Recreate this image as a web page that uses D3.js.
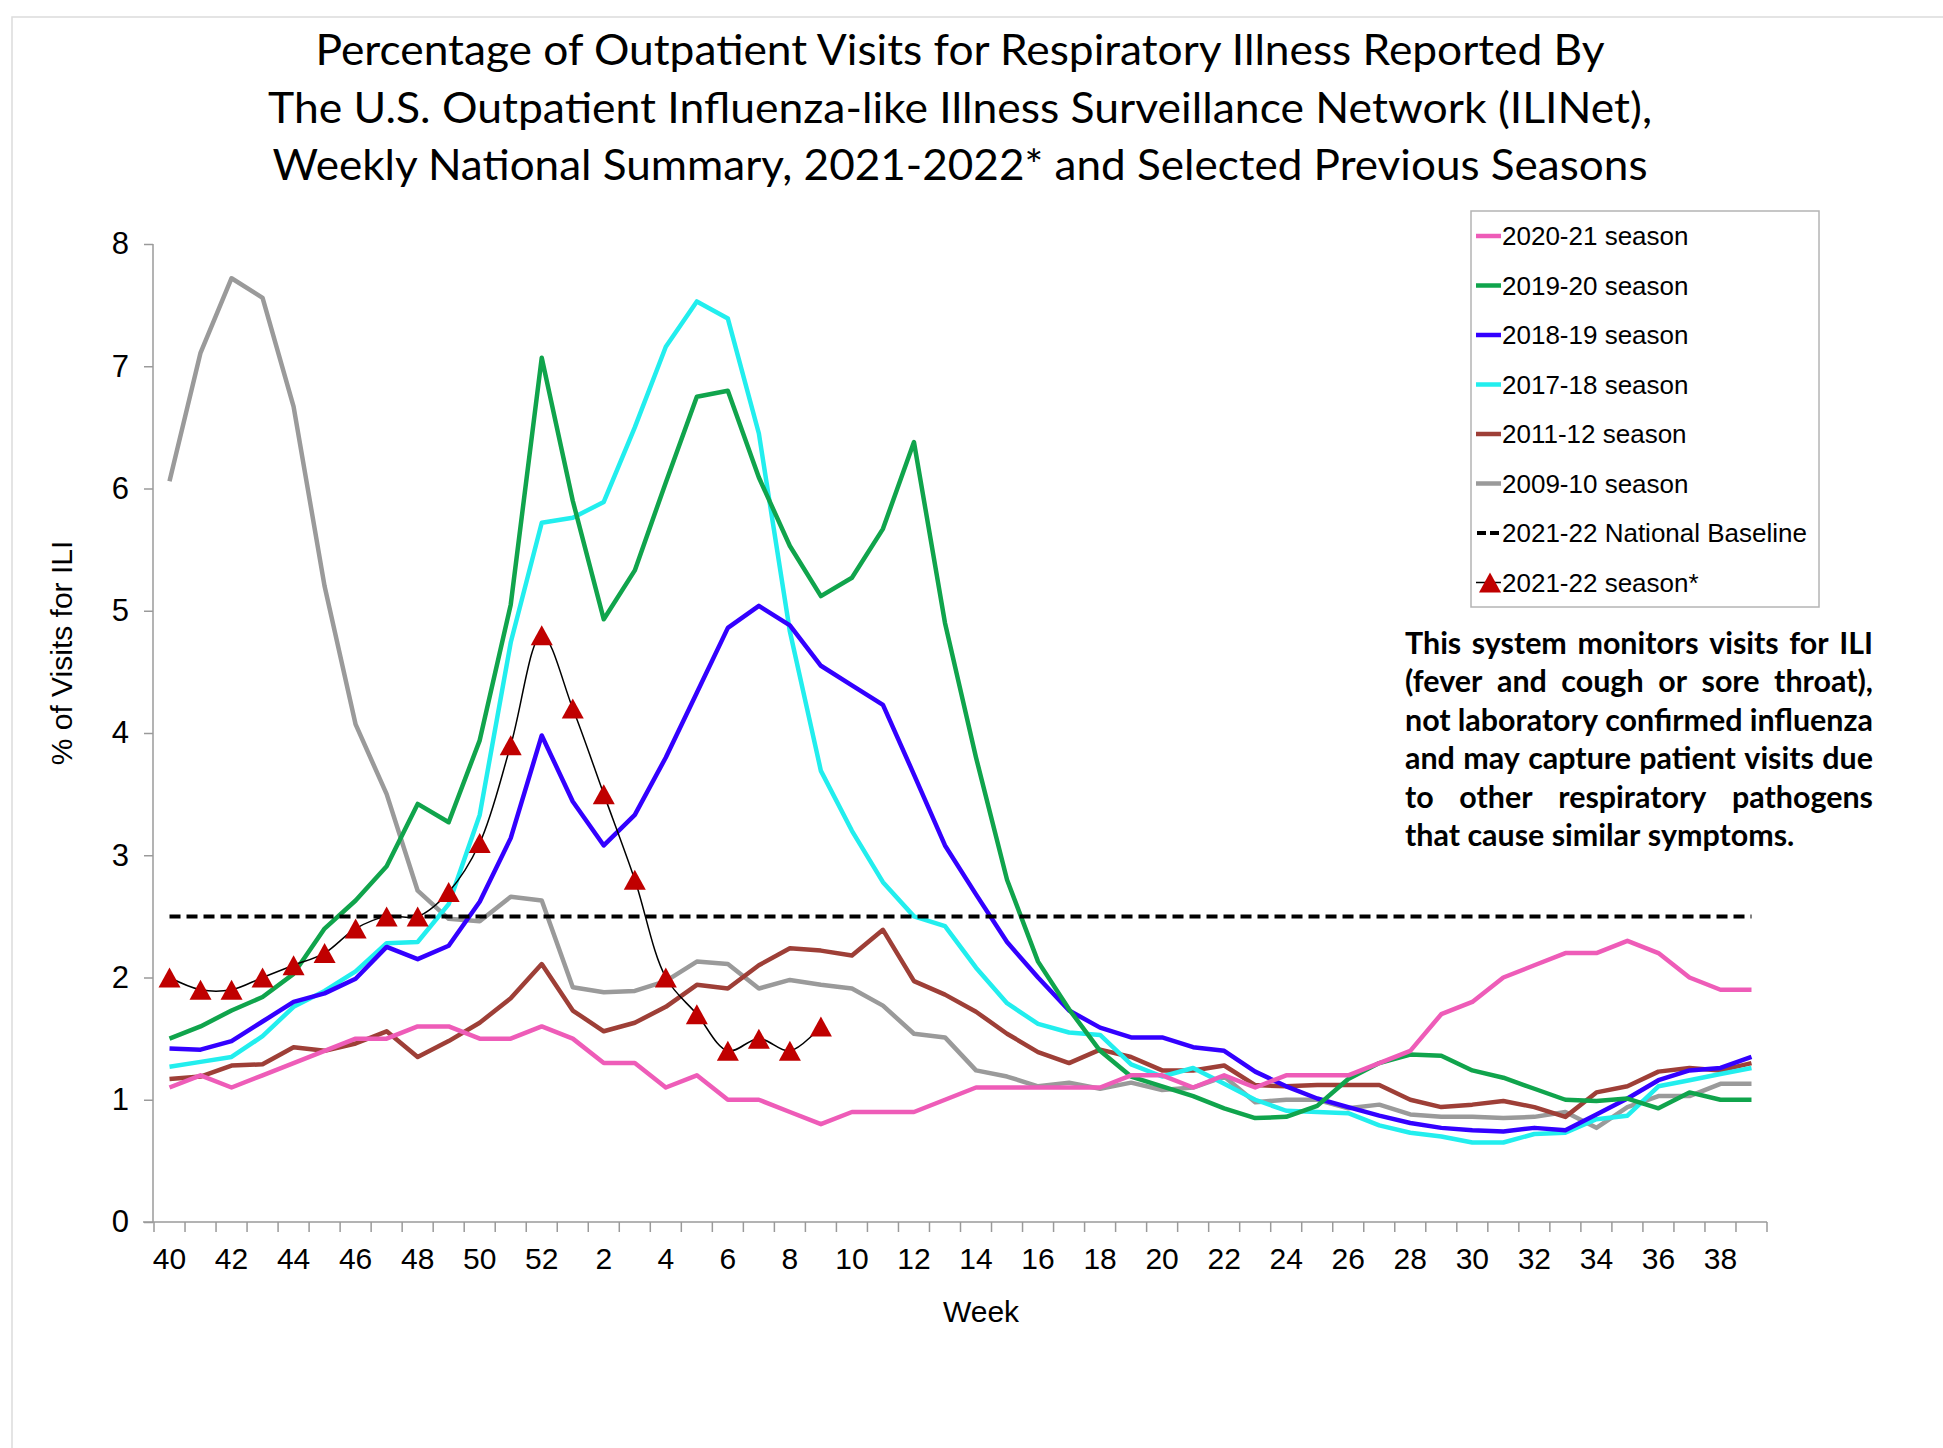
<!DOCTYPE html>
<html>
<head>
<meta charset="utf-8">
<script src="https://cdn.jsdelivr.net/npm/d3@7"></script>
<style>
  body { margin: 0; background: #fff; }
  svg { display: block; }
</style>
</head>
<body>
<svg id="chart"></svg>
<script>
const WIDTH = 1943, HEIGHT = 1448;

// week of the season, Oct (40) through Sep (39)
const weeks = [40, 41, 42, 43, 44, 45, 46, 47, 48, 49, 50, 51, 52,
  1, 2, 3, 4, 5, 6, 7, 8, 9, 10, 11, 12, 13, 14, 15, 16, 17, 18, 19, 20,
  21, 22, 23, 24, 25, 26, 27, 28, 29, 30, 31, 32, 33, 34, 35, 36, 37, 38, 39];
const weekLabels = [40, 42, 44, 46, 48, 50, 52, 2, 4, 6, 8, 10, 12, 14, 16, 18, 20,
  22, 24, 26, 28, 30, 32, 34, 36, 38];
const yTicks = [0, 1, 2, 3, 4, 5, 6, 7, 8];

const s2020_21 = [1.1, 1.2, 1.1, 1.2, 1.3, 1.4, 1.5, 1.5, 1.6, 1.6, 1.5, 1.5, 1.6,
  1.5, 1.3, 1.3, 1.1, 1.2, 1.0, 1.0, 0.9, 0.8, 0.9, 0.9, 0.9, 1.0, 1.1, 1.1, 1.1, 1.1, 1.1,
  1.2, 1.2, 1.1, 1.2, 1.1, 1.2, 1.2, 1.2, 1.3, 1.4, 1.7, 1.8, 2.0, 2.1, 2.2, 2.2, 2.3, 2.2,
  2.0, 1.9, 1.9];
const s2019_20 = [1.5, 1.6, 1.73, 1.84, 2.03, 2.4, 2.63, 2.91, 3.42, 3.27, 3.94, 5.05, 7.07,
  5.9, 4.93, 5.33, 6.05, 6.75, 6.8, 6.09, 5.53, 5.12, 5.27, 5.67, 6.38, 4.9, 3.8, 2.8, 2.13,
  1.74, 1.4, 1.19, 1.11, 1.03, 0.93, 0.85, 0.86, 0.95, 1.17, 1.3, 1.37, 1.36, 1.24, 1.18,
  1.09, 1.0, 0.99, 1.01, 0.93, 1.06, 1.0, 1.0];
const s2018_19 = [1.42, 1.41, 1.48, 1.64, 1.8, 1.87, 1.99, 2.25, 2.15, 2.26, 2.62, 3.14, 3.98,
  3.44, 3.08, 3.33, 3.8, 4.33, 4.86, 5.04, 4.88, 4.55, 4.39, 4.23, 3.66, 3.08, 2.68, 2.29,
  2.0, 1.73, 1.59, 1.51, 1.51, 1.43, 1.4, 1.23, 1.11, 1.01, 0.94, 0.87, 0.81, 0.77, 0.75,
  0.74, 0.77, 0.75, 0.88, 1.01, 1.16, 1.24, 1.26, 1.35];
const s2017_18 = [1.27, 1.31, 1.35, 1.52, 1.76, 1.89, 2.05, 2.28, 2.29, 2.6, 3.33, 4.74, 5.72,
  5.76, 5.89, 6.5, 7.16, 7.53, 7.39, 6.45, 4.83, 3.69, 3.2, 2.78, 2.5, 2.42, 2.08, 1.79,
  1.62, 1.55, 1.53, 1.29, 1.19, 1.26, 1.13, 1.0, 0.91, 0.9, 0.89, 0.79, 0.73, 0.7, 0.65,
  0.65, 0.72, 0.73, 0.84, 0.87, 1.11, 1.16, 1.21, 1.26];
const s2011_12 = [1.17, 1.19, 1.28, 1.29, 1.43, 1.4, 1.46, 1.56, 1.35, 1.48, 1.63, 1.83, 2.11,
  1.73, 1.56, 1.63, 1.76, 1.94, 1.91, 2.1, 2.24, 2.22, 2.18, 2.39, 1.97, 1.86, 1.72, 1.54,
  1.39, 1.3, 1.41, 1.35, 1.24, 1.24, 1.28, 1.12, 1.11, 1.12, 1.12, 1.12, 1.0, 0.94, 0.96,
  0.99, 0.94, 0.86, 1.06, 1.11, 1.23, 1.26, 1.24, 1.3];
const s2009_10 = [6.06, 7.11, 7.72, 7.56, 6.67, 5.2, 4.07, 3.5, 2.71, 2.48, 2.46, 2.66, 2.63,
  1.92, 1.88, 1.89, 1.97, 2.13, 2.11, 1.91, 1.98, 1.94, 1.91, 1.77, 1.54, 1.51, 1.24, 1.19,
  1.11, 1.14, 1.09, 1.14, 1.08, 1.1, 1.19, 0.98, 1.0, 1.0, 0.93, 0.96, 0.88, 0.86, 0.86,
  0.85, 0.86, 0.9, 0.77, 0.94, 1.03, 1.03, 1.13, 1.13];
// current season, reported through week 9
const s2021_22 = [2.0, 1.9, 1.9, 2.0, 2.1, 2.2, 2.4, 2.5, 2.5, 2.7, 3.1, 3.9, 4.8,
  4.2, 3.5, 2.8, 2.0, 1.7, 1.4, 1.5, 1.4, 1.6];
const nationalBaseline = 2.5;

const seasonNames = ["2020-21 season", "2019-20 season", "2018-19 season", "2017-18 season",
  "2011-12 season", "2009-10 season"];
const seasonValues = [s2020_21, s2019_20, s2018_19, s2017_18, s2011_12, s2009_10];
const seasonColors = ["#ee5cb8", "#10a44c", "#3300ff", "#22eeee", "#9e3f37", "#9a9a9a"];

const titleLines = [
  "Percentage of Outpatient Visits for Respiratory Illness Reported By",
  "The U.S. Outpatient Influenza-like Illness Surveillance Network (ILINet),",
  "Weekly National Summary, 2021-2022* and Selected Previous Seasons"
];
const titleWidths = [1289, 1384, 1375];
const noteLines = [
  "This system monitors visits for ILI",
  "(fever and cough or sore throat),",
  "not laboratory confirmed influenza",
  "and may capture patient visits due",
  "to other respiratory pathogens",
  "that cause similar symptoms."
];

const svg = d3.select('#chart').attr('width', WIDTH).attr('height', HEIGHT);
svg.append('rect').attr('width', WIDTH).attr('height', HEIGHT).attr('fill', '#fff');

// faint page frame
svg.append('path')
  .attr('d', `M12,${HEIGHT} L12,17 L${WIDTH},17`)
  .attr('fill', 'none').attr('stroke', '#dcdcdc').attr('stroke-width', 1.5);

const x = d3.scaleBand().domain(weeks).range([154, 1767]);
const y = d3.scaleLinear().domain([0, 8]).range([1222, 244]);
const cx = w => x(w) + x.bandwidth() / 2;

// title
svg.append('g')
  .selectAll('text')
  .data(titleLines)
  .join('text')
  .attr('x', 960)
  .attr('y', (d, i) => 65 + i * 57.5)
  .attr('text-anchor', 'middle')
  .attr('textLength', (d, i) => titleWidths[i])
  .attr('lengthAdjust', 'spacingAndGlyphs')
  .style('font-family', 'Lato, "Open Sans", sans-serif')
  .style('font-size', '42px')
  .attr('fill', '#000')
  .text(d => d);

// y axis
const yAxis = svg.append('g')
  .attr('transform', 'translate(153,0)')
  .call(d3.axisLeft(y).tickValues(yTicks).tickFormat(d3.format('d')).tickSize(9).tickPadding(15));
yAxis.select('.domain').remove();
yAxis.selectAll('line').attr('stroke', '#9a9a9a').attr('stroke-width', 1.5);
yAxis.selectAll('text')
  .style('font-family', '"Liberation Sans", Arial, sans-serif')
  .style('font-size', '31px').attr('fill', '#000');
svg.append('line')
  .attr('x1', 153).attr('x2', 153).attr('y1', y(8)).attr('y2', y(0))
  .attr('stroke', '#9a9a9a').attr('stroke-width', 1.5);

// x axis
const xAxis = svg.append('g')
  .attr('transform', `translate(0,${y(0)})`)
  .call(d3.axisBottom(x).tickValues(weekLabels).tickSize(0).tickPadding(26));
xAxis.select('.domain').remove();
xAxis.selectAll('text')
  .style('font-family', '"Liberation Sans", Arial, sans-serif')
  .style('font-size', '30px').attr('fill', '#000');
svg.append('line')
  .attr('x1', 143).attr('x2', x.range()[1]).attr('y1', y(0)).attr('y2', y(0))
  .attr('stroke', '#9a9a9a').attr('stroke-width', 1.5);
svg.append('g')
  .selectAll('line')
  .data(weeks.map(w => x(w)).concat([x.range()[1]]))
  .join('line')
  .attr('x1', d => d).attr('x2', d => d)
  .attr('y1', y(0)).attr('y2', y(0) + 10)
  .attr('stroke', '#9a9a9a').attr('stroke-width', 1.5);

svg.append('text')
  .attr('x', 981).attr('y', 1322)
  .attr('text-anchor', 'middle')
  .style('font-family', '"Liberation Sans", Arial, sans-serif')
  .style('font-size', '30px')
  .text('Week');

svg.append('text')
  .attr('transform', 'translate(72,653) rotate(-90)')
  .attr('text-anchor', 'middle')
  .style('font-family', '"Liberation Sans", Arial, sans-serif')
  .style('font-size', '30px')
  .text('% of Visits for ILI');

// season lines, older seasons underneath
const line = d3.line()
  .x((d, i) => cx(weeks[i]))
  .y(d => y(d));

const order = d3.range(seasonValues.length).reverse();
svg.append('g')
  .selectAll('path')
  .data(order)
  .join('path')
  .attr('d', k => line(seasonValues[k]))
  .attr('fill', 'none')
  .attr('stroke', k => seasonColors[k])
  .attr('stroke-width', 4.5)
  .attr('stroke-linejoin', 'round');

// national baseline
svg.append('line')
  .attr('x1', cx(weeks[0])).attr('x2', cx(weeks[weeks.length - 1]))
  .attr('y1', y(nationalBaseline)).attr('y2', y(nationalBaseline))
  .attr('stroke', '#000').attr('stroke-width', 4)
  .attr('stroke-dasharray', '11,6');

// current season
const currentLine = d3.line()
  .x((d, i) => cx(weeks[i]))
  .y(d => y(d))
  .curve(d3.curveCatmullRom.alpha(0.5));
svg.append('path')
  .attr('d', currentLine(s2021_22))
  .attr('fill', 'none').attr('stroke', '#000').attr('stroke-width', 1.5);

const triangle = 'M0,-10L11,10L-11,10Z';
svg.append('g')
  .selectAll('path')
  .data(s2021_22)
  .join('path')
  .attr('d', triangle)
  .attr('transform', (d, i) => `translate(${cx(weeks[i])},${y(d)})`)
  .attr('fill', '#c00000');

// legend
const legend = svg.append('g').style('font-family', '"Liberation Sans", Arial, sans-serif')
  .style('font-size', '26px');
legend.append('rect')
  .attr('x', 1471).attr('y', 211).attr('width', 348).attr('height', 396)
  .attr('fill', '#fff').attr('stroke', '#b4b4b4').attr('stroke-width', 1.5);

const legendNames = seasonNames.concat(['2021-22 National Baseline', '2021-22 season*']);
const rowY = i => 236 + i * 49.5;
const rows = legend.selectAll('g.row')
  .data(legendNames)
  .join('g')
  .attr('class', 'row')
  .attr('transform', (d, i) => `translate(0,${rowY(i)})`);
rows.append('text')
  .attr('x', 1502).attr('dy', '0.35em')
  .text(d => d);
rows.filter((d, i) => i < seasonNames.length)
  .append('line')
  .attr('x1', 1476).attr('x2', 1501)
  .attr('stroke', (d, i) => seasonColors[i]).attr('stroke-width', 4.5);
rows.filter((d, i) => i === seasonNames.length)
  .append('line')
  .attr('x1', 1477).attr('x2', 1501)
  .attr('stroke', '#000').attr('stroke-width', 4).attr('stroke-dasharray', '9,4');
const curRow = rows.filter((d, i) => i === seasonNames.length + 1);
curRow.append('line')
  .attr('x1', 1476).attr('x2', 1501)
  .attr('stroke', '#000').attr('stroke-width', 1.5);
curRow.append('path')
  .attr('d', triangle)
  .attr('transform', 'translate(1490,0)')
  .attr('fill', '#c00000');

// justified note text
const NOTE_X = 1405, NOTE_W = 468;
const note = svg.append('g')
  .style('font-family', 'Lato, "Open Sans", sans-serif')
  .style('font-weight', 700)
  .style('font-size', '31px');

function measure(str) {
  let t = note.append('text').text(str);
  let w = t.node().getComputedTextLength();
  t.remove();
  return w;
}
const spaceW = measure('a a') - measure('aa');
let squeeze = 1;
noteLines.forEach((ln, i) => {
  if (i < noteLines.length - 1) squeeze = Math.min(squeeze, NOTE_W / measure(ln));
});

noteLines.forEach((ln, i) => {
  let words = ln.split(' ');
  let widths = words.map(w => measure(w) * squeeze);
  let gap = spaceW * squeeze;
  if (i < noteLines.length - 1 && words.length > 1) {
    gap = (NOTE_W - d3.sum(widths)) / (words.length - 1);
  }
  let xPos = NOTE_X;
  let baseY = 654 + i * 38.4;
  words.forEach((w, j) => {
    note.append('text')
      .attr('transform', `translate(${xPos},${baseY}) scale(${squeeze},1)`)
      .text(w);
    xPos += widths[j] + gap;
  });
});
</script>
</body>
</html>
